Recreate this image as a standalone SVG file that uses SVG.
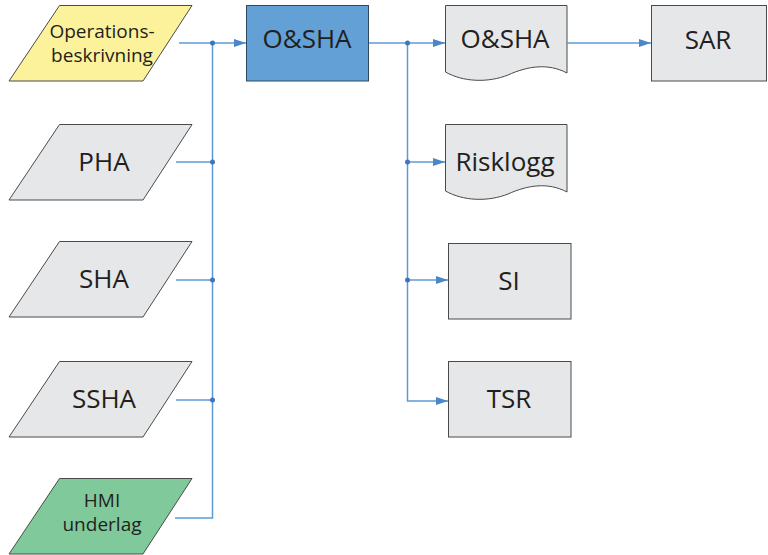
<svg xmlns="http://www.w3.org/2000/svg" width="768" height="555" viewBox="0 0 768 555">
<style>
.shape{stroke:#4a4a4a;stroke-width:1}
.grey{fill:#e6e7e8}
.lbl{font-family:"Open Sans","Noto Sans",sans-serif;font-size:26px;fill:#231f20;text-anchor:middle}
.sm{font-size:19px}
.con{fill:none;stroke:#5b9bd5;stroke-width:1.5}
.dot{fill:#3f74c0}
</style>
<defs>
<marker id="arr" viewBox="0 0 12 8" refX="12" refY="4" markerWidth="12" markerHeight="8" markerUnits="userSpaceOnUse" orient="auto">
<path d="M0,0 L12,4 L0,8 Z" fill="#4a86c8"/>
</marker>
</defs>
<g id="n-operations">
<path class="shape" d="M59.5,5.5 H192 L143,81 H9 Z" fill="#fbf29b"/>
<text class="lbl sm" x="102" y="38">Operations-</text>
<text class="lbl sm" x="102" y="62">beskrivning</text>
</g>
<g id="n-pha">
<path class="shape grey" d="M59.5,124.5 H192 L143,200 H9 Z"/>
<text class="lbl" x="104" y="171">PHA</text>
</g>
<g id="n-sha">
<path class="shape grey" d="M59.5,241.5 H192 L143,317 H9 Z"/>
<text class="lbl" x="104" y="288">SHA</text>
</g>
<g id="n-ssha">
<path class="shape grey" d="M59.5,361.5 H192 L143,437 H9 Z"/>
<text class="lbl" x="104" y="408">SSHA</text>
</g>
<g id="n-hmi">
<path class="shape" d="M59.5,478.5 H192 L143,554 H9 Z" fill="#80c99b"/>
<text class="lbl sm" x="102" y="507">HMI</text>
<text class="lbl sm" x="102" y="531">underlag</text>
</g>
<g id="n-osha">
<rect x="246.5" y="5.5" width="122" height="75.5" fill="#62a0d6" stroke="#2f4a60" stroke-width="1"/>
<text class="lbl" x="307" y="48">O&amp;SHA</text>
</g>
<g id="n-osha-doc">
<path class="shape grey" d="M445.5,5.5 H567 V73 C548,63 528,66 508,75 C488,83 463,82 445.5,72 Z"/>
<text class="lbl" x="505" y="48">O&amp;SHA</text>
</g>
<g id="n-sar">
<rect class="shape grey" x="651.5" y="5.5" width="115" height="75.5"/>
<text class="lbl" x="708" y="49">SAR</text>
</g>
<g id="n-risklogg">
<path class="shape grey" d="M445.5,124.5 H567 V192 C548,182 528,185 508,194 C488,202 463,201 445.5,191 Z"/>
<text class="lbl" x="505" y="171">Risklogg</text>
</g>
<g id="n-si">
<rect class="shape grey" x="448.5" y="243.5" width="122.5" height="75.5"/>
<text class="lbl" x="509" y="290">SI</text>
</g>
<g id="n-tsr">
<rect class="shape grey" x="448.5" y="361.5" width="122.5" height="75.5"/>
<text class="lbl" x="509" y="408">TSR</text>
</g>
<g id="connectors">
<path class="con" d="M179,43 H212.5"/>
<path class="con" d="M176,162 H212.5"/>
<path class="con" d="M176,280 H212.5"/>
<path class="con" d="M176,400 H212.5"/>
<path class="con" d="M175,518 H212.5 V43"/>
<path class="con" d="M212.5,43 H246" marker-end="url(#arr)"/>
<path class="con" d="M369,43 H445" marker-end="url(#arr)"/>
<path class="con" d="M407.5,43 V401 H448" marker-end="url(#arr)"/>
<path class="con" d="M407.5,162 H445" marker-end="url(#arr)"/>
<path class="con" d="M407.5,280 H448" marker-end="url(#arr)"/>
<path class="con" d="M567,43 H651" marker-end="url(#arr)"/>
<circle class="dot" cx="212.5" cy="43" r="2.5"/>
<circle class="dot" cx="212.5" cy="162" r="2.5"/>
<circle class="dot" cx="212.5" cy="280" r="2.5"/>
<circle class="dot" cx="212.5" cy="400" r="2.5"/>
<circle class="dot" cx="407.5" cy="43" r="2.5"/>
<circle class="dot" cx="407.5" cy="162" r="2.5"/>
<circle class="dot" cx="407.5" cy="280" r="2.5"/>
</g>
</svg>
